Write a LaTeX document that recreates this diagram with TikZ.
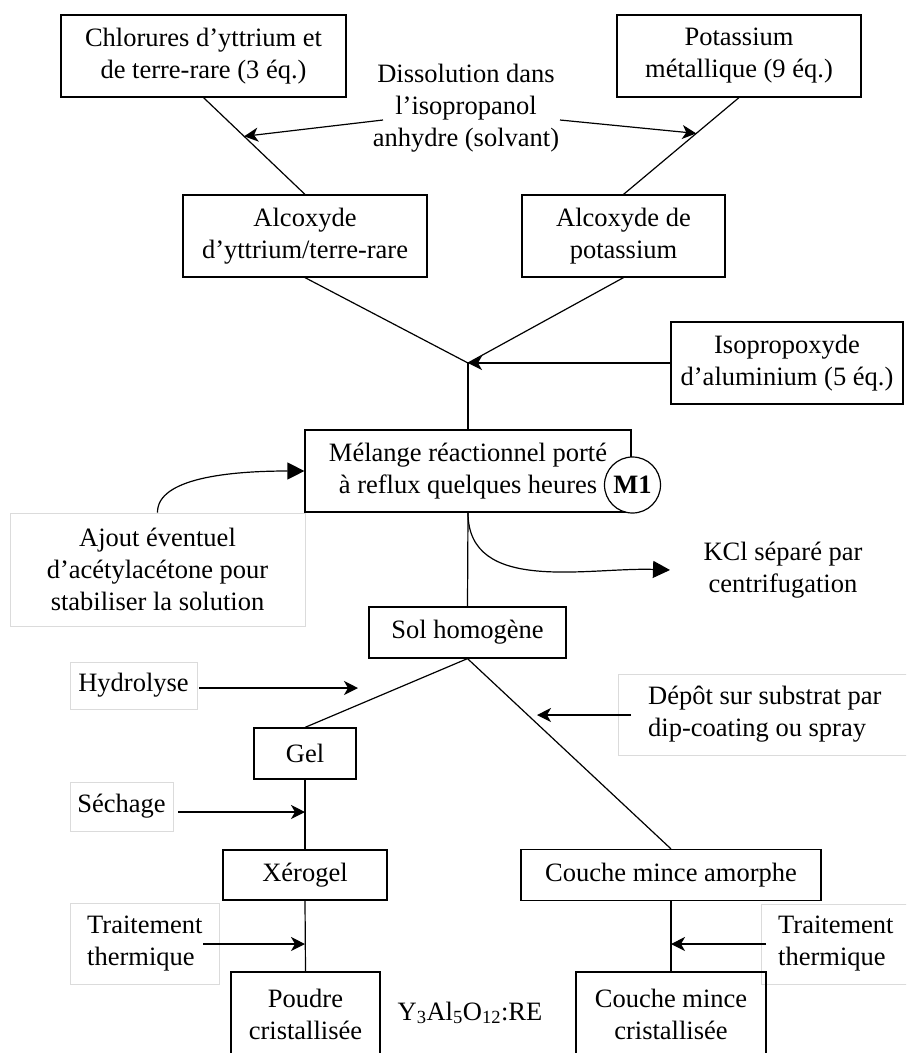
\documentclass[tikz,border=0pt]{standalone}
\usepackage{fontspec}
\setmainfont{Liberation Serif}
\usetikzlibrary{arrows.meta,calc}
\begin{document}
\begin{tikzpicture}[x=1pt,y=-1pt,
  every node/.style={font=\fontsize{26.5}{32}\selectfont, inner sep=0pt},
  box/.style={draw, line width=1.2pt, align=center},
  lbox/.style={draw=black!14, line width=0.8pt},
  link/.style={line width=1.2pt},
  sarrow/.style={line width=1.2pt, -{Stealth[length=14pt,width=14pt,inset=4pt]}},
  carrow/.style={line width=1.2pt, -{Triangle[length=17pt,width=17pt]}}]
\useasboundingbox (0,0) rectangle (906,1053);
\clip (0,0) rectangle (906,1053);
% main boxes
\node[box, minimum width=285, minimum height=82] (chl) at (203.5,56) {Chlorures d’yttrium et\\de terre-rare (3 éq.)};
\node[box, minimum width=244, minimum height=82] (pot) at (739,56) {Potassium\\métallique (9 éq.)};
\node[align=center] (diss) at (466,108) {Dissolution dans\\l’isopropanol\\anhydre (solvant)};
\node[box, minimum width=244, minimum height=82] (aly) at (305,236) {Alcoxyde\\d’yttrium/terre-rare};
\node[box, minimum width=203, minimum height=82] (alk) at (623.5,236) {Alcoxyde de\\potassium};
\coordinate (j) at (468,363);
\node[box, minimum width=232, minimum height=82] (iso) at (787,363) {Isopropoxyde\\d’aluminium (5 éq.)};
\node[box, minimum width=326, minimum height=82] (mel) at (468,471) {Mélange réactionnel porté\\à reflux quelques heures};
\node[draw, circle, line width=1.2pt, fill=white, minimum size=56, font=\fontsize{26.5}{32}\selectfont\bfseries] (m1) at (632.5,485) {M1};
\node[lbox, minimum width=295, minimum height=113, align=center] (ajout) at (157.5,569.5) {Ajout éventuel\\d’acétylacétone pour\\stabiliser la solution};
\node[align=center] (kcl) at (783,570) {KCl séparé par\\centrifugation};
\node[box, minimum width=197, minimum height=51] (sol) at (467.5,632.5) {Sol homogène};
\node[lbox, minimum width=127, minimum height=47] (hyd) at (133.5,685.5) {Hydrolyse};
\node[lbox, minimum width=290, minimum height=81] (dep) at (763,714.5) {};
\node[anchor=west, align=left] (dept) at (648,714.5) {Dépôt sur substrat par\\dip-coating ou spray};
\node[box, minimum width=102, minimum height=51] (gel) at (305,753.5) {Gel};
\node[lbox, minimum width=103, minimum height=49] (sech) at (121.5,806.5) {Séchage};
\node[box, minimum width=164, minimum height=50] (xer) at (305,875) {Xérogel};
\node[box, minimum width=300, minimum height=51] (cam) at (671,875) {Couche mince amorphe};
\node[lbox, minimum width=149, minimum height=81] (ttl) at (144.5,943.5) {};
\node[anchor=west, align=left] (ttlt) at (87,943.5) {Traitement\\thermique};
\node[lbox, minimum width=148, minimum height=80] (ttr) at (835,944) {};
\node[anchor=west, align=left] (ttrt) at (778,944) {Traitement\\thermique};
\node[box, minimum width=149, minimum height=84] (pou) at (305.5,1014) {Poudre\\cristallisée};
\node[box, minimum width=190, minimum height=84] (ccr) at (671,1014) {Couche mince\\cristallisée};
\node (yag) at (470,1013) {Y\textsubscript{3}Al\textsubscript{5}O\textsubscript{12}:RE};
% connectors
\draw[link] (chl.south) -- (aly.north);
\draw[link] (pot.south) -- (alk.north);
\coordinate (dl) at (383,120);
\coordinate (dr) at (560,120);
\coordinate (tl) at ($(chl.south)!0.40!(aly.north)$);
\coordinate (tr) at ($(pot.south)!0.37!(alk.north)$);
\draw[sarrow] (dl) -- (tl);
\draw[sarrow] (dr) -- (tr);
\draw[link] (aly.south) -- (j);
\draw[link] (alk.south) -- (j);
\draw[sarrow] (iso.west) -- (j);
\draw[link] (j) -- (mel.north);
\draw[carrow] (ajout.north) .. controls (157,478) and (230,471) .. (mel.west);
\draw[link] (mel.south) -- (sol.north);
\coordinate (kt) at (670,570);
\draw[carrow] (mel.south) to[out=-90,in=178] (kt);
\draw[link] (sol.south) -- (gel.north);
\draw[link] (sol.south) -- (cam.north);
\coordinate (hs) at (199,688);
\coordinate (ht) at (358,688);
\draw[sarrow] (hs) -- (ht);
\coordinate (ds) at (631,715);
\coordinate (dt) at (537,715);
\draw[sarrow] (ds) -- (dt);
\draw[link] (gel.south) -- (xer.north);
\coordinate (ss) at (178,812);
\coordinate (st) at (305,812);
\draw[sarrow] (ss) -- (st);
\draw[link] (xer.south) -- (pou.north);
\coordinate (ls) at (203,944);
\coordinate (lt) at (305,944);
\draw[sarrow] (ls) -- (lt);
\draw[link] (cam.south) -- (ccr.north);
\coordinate (rs) at (766,944);
\coordinate (rt) at (671,944);
\draw[sarrow] (rs) -- (rt);
\end{tikzpicture}
\end{document}
